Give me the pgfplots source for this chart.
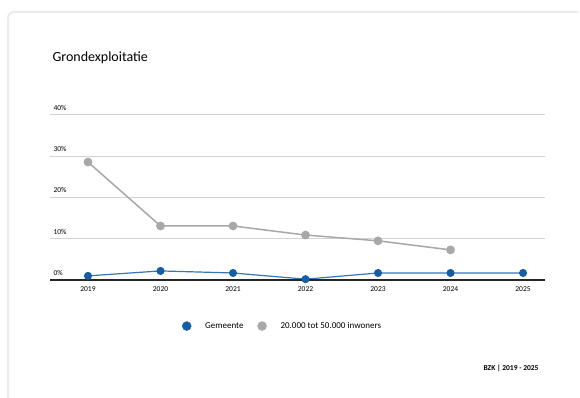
\documentclass[border=0pt]{standalone}
\usepackage{pgfplots}
\pgfplotsset{compat=1.18}
\usepackage{fontspec}
\setmainfont{Carlito}
\definecolor{cblue}{RGB}{22,94,164}
\definecolor{cgray}{RGB}{168,168,168}
\definecolor{cgrid}{RGB}{210,210,210}
\begin{document}
\begin{tikzpicture}[x=1pt,y=1pt]
\useasboundingbox (0,0) rectangle (580,398);
\fill[white] (0,0) rectangle (580,398);
\draw[black!8,line width=2pt,rounded corners=6pt] (8,-10) -- (8,386) -- (578,386);
\node[anchor=west,font=\fontsize{14}{16}\selectfont] at (49,340) {Grondexploitatie};
\node[anchor=east,font=\fontsize{7.5}{9}\selectfont\bfseries] at (542,30) {BZK | 2019 - 2025};
\begin{axis}[
  at={(50pt,118pt)}, anchor=south west,
  scale only axis, width=495pt, height=165pt,
  xmin=-0.524, xmax=6.303, ymin=0, ymax=40,
  axis line style={draw=none},
  xtick={0,...,6}, xticklabels={2019,2020,2021,2022,2023,2024,2025},
  ytick={0,10,20,30,40},
  yticklabel={\pgfmathprintnumber{\tick}\%},
  ymajorgrids, grid style={cgrid, line width=1pt},
  major tick length=0pt,
  tick label style={font=\fontsize{7.5}{9}\selectfont},
  /pgf/number format/assume math mode=true,
  yticklabel style={anchor=south west, xshift=0pt, yshift=1pt},
  xticklabel style={yshift=-3pt},
  legend style={at={(0.47,-0.279)}, anchor=center, draw=none, fill=none,
    font=\fontsize{9}{10}\selectfont, column sep=12pt},
  legend columns=2,
  legend cell align=left,
  clip=false,
]
\addlegendimage{only marks, mark=*, mark size=4.5pt, cblue}
\addlegendentry{Gemeente}
\addlegendimage{only marks, mark=*, mark size=4.5pt, cgray}
\addlegendentry{20.000 tot 50.000 inwoners}
\addplot[forget plot, cgray, line width=1.5pt, mark=*, mark size=3.6pt, mark options={draw=cgray,fill=cgray}]
  coordinates {(0,28.6) (1,13.1) (2,13.1) (3,10.9) (4,9.5) (5,7.3)};
\addplot[forget plot, cblue!85, line width=1.2pt, mark=*, mark size=3.4pt, mark options={draw=cblue,fill=cblue}]
  coordinates {(0,1.0) (1,2.2) (2,1.7) (3,0.2) (4,1.7) (5,1.7) (6,1.7)};
\draw[black!85, line width=1.6pt] (axis cs:-0.524,0) -- (axis cs:6.303,0);
\end{axis}
\end{tikzpicture}
\end{document}
